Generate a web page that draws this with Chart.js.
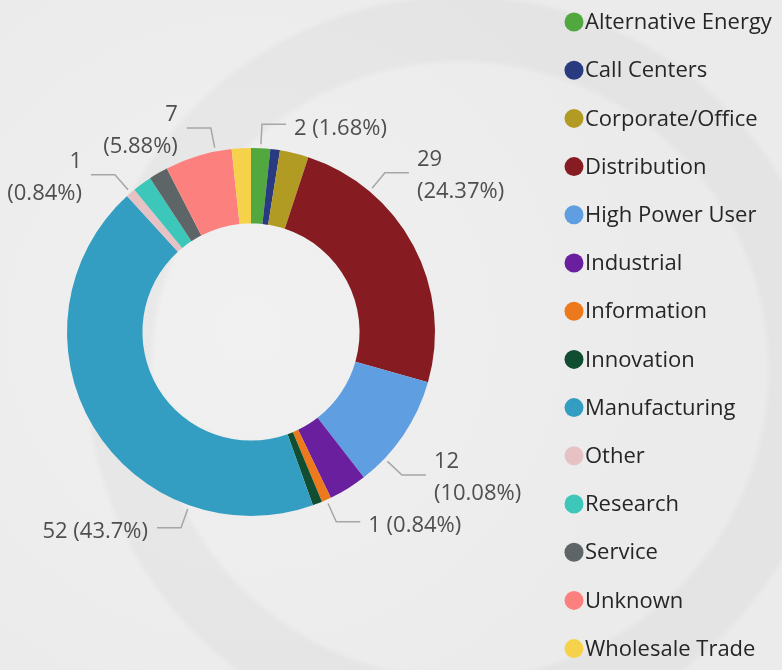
<!DOCTYPE html>
<html>
<head>
<meta charset="utf-8">
<script src="https://cdn.jsdelivr.net/npm/chart.js@4/dist/chart.umd.min.js"></script>
<style>
  html, body { margin: 0; padding: 0; }
  body {
    width: 782px;
    height: 670px;
    overflow: hidden;
    background-color: #ebebeb;
    background-image:
      radial-gradient(circle at 460px 370px, rgba(0,0,0,0) 305px, rgba(0,0,0,0.03) 312px, rgba(0,0,0,0.03) 370px, rgba(0,0,0,0) 377px),
      radial-gradient(circle at 250px 330px, rgba(255,255,255,0.3) 0, rgba(255,255,255,0) 420px);
  }
  canvas { display: block; }
</style>
</head>
<body>
<canvas id="sector-chart" width="782" height="670"></canvas>
<script>
const categories = [
  "Alternative Energy", "Call Centers", "Corporate/Office", "Distribution",
  "High Power User", "Industrial", "Information", "Innovation",
  "Manufacturing", "Other", "Research", "Service", "Unknown", "Wholesale Trade",
];
const counts = [2, 1, 3, 29, 12, 4, 1, 1, 52, 1, 2, 2, 7, 2];
const sliceColors = [
  "#50a83e", "#2a3a80", "#b29b22", "#861c22",
  "#5f9ee0", "#6a1f9e", "#ec7a1c", "#114d30",
  "#339ec2", "#e6c2c4", "#3dc6ba", "#5e6566", "#fc807d", "#f6d24a",
];

// which slices get an outside label, where the leader leaves the slice (0..1 along its arc)
// and whether the text breaks into two lines
const labelSlots = [
  { index: 0, at: 0.5, wrap: false },
  { index: 3, at: 0.25, wrap: true },
  { index: 4, at: 0.76, wrap: true },
  { index: 6, at: 0.5, wrap: false },
  { index: 8, at: 0.25, wrap: false },
  { index: 9, at: 0.5, wrap: true },
  { index: 12, at: 0.76, wrap: true },
];

const total = counts.reduce((a, b) => a + b, 0);
const pctText = (v) => `(${parseFloat((v / total * 100).toFixed(2))}%)`;

const leaderLabels = {
  id: "leaderLabels",
  afterDatasetsDraw(chart) {
    const { ctx } = chart;
    const arcs = chart.getDatasetMeta(0).data;
    ctx.save();
    ctx.font = "22px 'Open Sans', 'Noto Sans', sans-serif";
    ctx.textBaseline = "middle";
    labelSlots.forEach((slot) => {
      const arc = arcs[slot.index];
      const { x, y, startAngle, endAngle, outerRadius } = arc.getProps(["x", "y", "startAngle", "endAngle", "outerRadius"], true);
      const angle = startAngle + (endAngle - startAngle) * slot.at;
      const cos = Math.cos(angle);
      const sin = Math.sin(angle);
      const r0 = outerRadius + 4;
      const r1 = outerRadius + 24;
      const x0 = x + cos * r0, y0 = y + sin * r0;
      const x1 = x + cos * r1, y1 = y + sin * r1;
      const right = x1 >= x;
      const x2 = x1 + (right ? 24 : -24);

      ctx.strokeStyle = "#a6a6a6";
      ctx.lineWidth = 1.5;
      ctx.beginPath();
      ctx.moveTo(x0, y0);
      ctx.lineTo(x1, y1);
      ctx.lineTo(x2, y1);
      ctx.stroke();

      const value = counts[slot.index];
      const tx = x2 + (right ? 8 : -9);
      ctx.fillStyle = "#4f4f4f";
      ctx.textAlign = right ? "left" : "right";
      if (slot.wrap) {
        ctx.fillText(String(value), tx, y1 - 13);
        ctx.fillText(pctText(value), tx, y1 + 19);
      } else {
        ctx.fillText(`${value} ${pctText(value)}`, tx, y1 + 4);
      }
    });
    ctx.restore();
  },
};

// legend down the right edge, one dot and name per category
const sideLegend = {
  id: "sideLegend",
  afterDraw(chart) {
    const { ctx } = chart;
    ctx.save();
    ctx.font = "22px 'Open Sans', 'Noto Sans', sans-serif";
    ctx.textBaseline = "middle";
    ctx.textAlign = "left";
    chart.data.labels.forEach((name, i) => {
      const cy = 22 + i * 48.2;
      ctx.fillStyle = chart.data.datasets[0].backgroundColor[i];
      ctx.beginPath();
      ctx.arc(574, cy, 9.5, 0, Math.PI * 2);
      ctx.fill();
      ctx.fillStyle = "#262626";
      ctx.fillText(name, 585, cy + 1);
    });
    ctx.restore();
  },
};

new Chart(document.getElementById("sector-chart"), {
  type: "doughnut",
  data: {
    labels: categories,
    datasets: [{
      data: counts,
      backgroundColor: sliceColors,
      borderWidth: 0,
    }],
  },
  options: {
    responsive: false,
    animation: false,
    cutout: "59%",
    layout: { padding: { left: 67, right: 347, top: 148, bottom: 154 } },
    plugins: {
      legend: { display: false },
      tooltip: { enabled: false },
    },
  },
  plugins: [leaderLabels, sideLegend],
});
</script>
</body>
</html>
